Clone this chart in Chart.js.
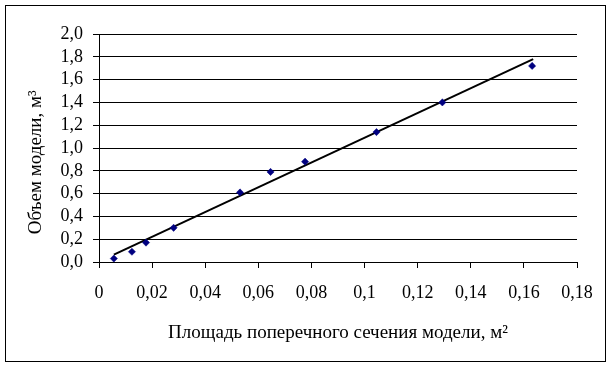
<!DOCTYPE html>
<html>
<head>
<meta charset="utf-8">
<script src="https://cdn.jsdelivr.net/npm/chart.js@4/dist/chart.umd.min.js"></script>
<style>
  html, body { margin: 0; padding: 0; background: #fff; }
  #wrap { position: relative; width: 612px; height: 367px; }
  #frame { position: absolute; left: 5px; top: 5px; width: 599px; height: 355px; border: 1px solid #000; pointer-events: none; }
  canvas { position: absolute; left: 0; top: 0; }
</style>
</head>
<body>
<div id="wrap">
  <div id="frame"></div>
  <canvas id="c" width="612" height="367"></canvas>
</div>
<script>
// Measured points: cross-section area (m²) vs model volume (m³)
const areaX   = [0.0056, 0.0124, 0.0177, 0.0281, 0.0531, 0.0646, 0.0776, 0.1045, 0.1293, 0.1631];
const volumeY = [0.03,   0.09,   0.17,   0.30,   0.61,   0.79,   0.88,   1.14,   1.40,   1.72];
// Linear trend line endpoints
const trendX = [0.0056, 0.1635];
const trendY = [0.064, 1.78];
// Tick labels
const xTickLabels = ['0', '0,02', '0,04', '0,06', '0,08', '0,1', '0,12', '0,14', '0,16', '0,18'];
const yTickLabels = ['0,0', '0,2', '0,4', '0,6', '0,8', '1,0', '1,2', '1,4', '1,6', '1,8', '2,0'];
const xTitle = 'Площадь поперечного сечения модели, м²';
const yTitle = 'Объем модели, м³';

const FONT = '"Liberation Serif", "Times New Roman", serif';

const points = areaX.map((x, i) => ({ x: x, y: volumeY[i] }));
const trend = trendX.map((x, i) => ({ x: x, y: trendY[i] }));

new Chart(document.getElementById('c'), {
  type: 'scatter',
  data: {
    datasets: [
      {
        type: 'line',
        data: trend,
        borderColor: '#000',
        borderWidth: 2,
        pointRadius: 0,
        fill: false,
        order: 2
      },
      {
        data: points,
        pointStyle: 'rectRot',
        pointRadius: 3.6,
        pointBackgroundColor: '#000080',
        pointBorderColor: '#000080',
        pointBorderWidth: 0.5,
        order: 1
      }
    ]
  },
  options: {
    responsive: false,
    animation: false,
    events: [],
    layout: { padding: { left: 0, right: 35, top: 34, bottom: 0 } },
    plugins: { legend: { display: false }, tooltip: { enabled: false } },
    scales: {
      x: {
        type: 'linear',
        min: 0, max: 0.18,
        afterFit: (s) => { s.height = 105; },
        ticks: {
          stepSize: 0.02,
          padding: 14,
          color: '#000',
          font: { family: FONT, size: 18 },
          maxRotation: 0,
          autoSkip: false,
          callback: (v, i) => xTickLabels[i]
        },
        grid: { drawOnChartArea: false, drawTicks: true, tickLength: 6, color: '#000', lineWidth: 1 },
        border: { display: true, color: '#000', width: 1 },
        title: {
          display: true,
          text: xTitle,
          color: '#000',
          font: { family: FONT, size: 19 },
          padding: { top: 0, bottom: 23 }
        }
      },
      y: {
        type: 'linear',
        min: 0, max: 2,
        afterFit: (s) => { s.width = 99; },
        ticks: {
          stepSize: 0.2,
          padding: 10,
          color: '#000',
          font: { family: FONT, size: 18 },
          autoSkip: false,
          callback: (v, i) => yTickLabels[i]
        },
        grid: { drawOnChartArea: true, drawTicks: true, tickLength: 6, color: '#000', lineWidth: 1 },
        border: { display: true, color: '#000', width: 1 },
        title: {
          display: true,
          text: yTitle + '\u00A0\u00A0\u00A0\u00A0\u00A0\u00A0',
          color: '#000',
          font: { family: FONT, size: 19 },
          padding: { top: 25, bottom: 0 }
        }
      }
    }
  }
});
</script>
</body>
</html>
